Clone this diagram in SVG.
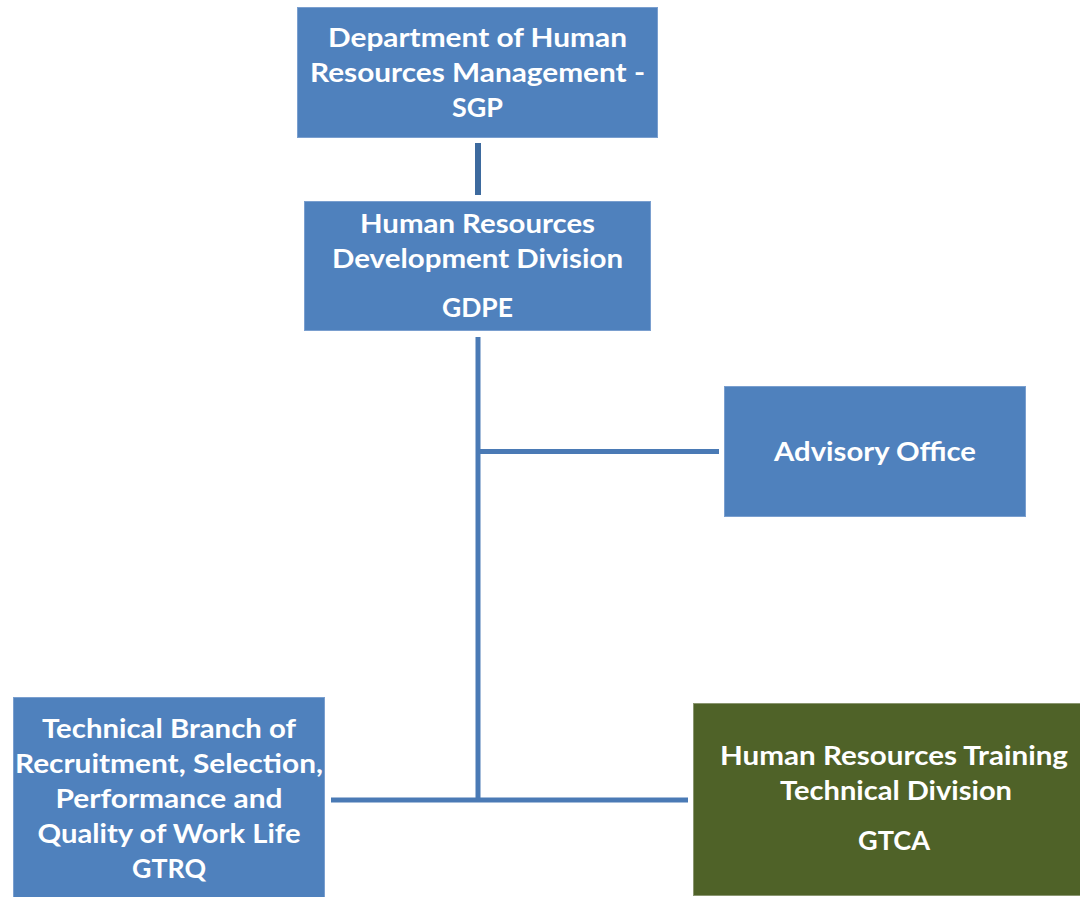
<svg xmlns="http://www.w3.org/2000/svg" width="1080" height="897" viewBox="0 0 1080 897">
<style>
.blue{fill:#4F81BD;stroke:#7A9FCF;stroke-width:1}
.green{fill:#4F6228;stroke:#8A9670;stroke-width:1}
.t{font-family:Lato,"Open Sans","Liberation Sans",sans-serif;font-weight:bold;font-size:27px;fill:#FFFFFF;text-anchor:middle}
.c{stroke:#4A7AB5;stroke-width:5;fill:none}
</style>
<rect width="1080" height="897" fill="#FFFFFF"/>
<g id="connectors">
<line class="c" x1="478" y1="143" x2="478" y2="195" style="stroke:#3D6A9E;stroke-width:6"/>
<line class="c" x1="478" y1="337" x2="478" y2="802"/>
<line class="c" x1="478" y1="451.5" x2="719" y2="451.5"/>
<line class="c" x1="331" y1="800" x2="688" y2="800"/>
</g>
<g id="sgp">
<rect class="blue" x="297.5" y="7.5" width="360" height="130"/>
<text class="t" x="477.5" y="47" textLength="299" lengthAdjust="spacingAndGlyphs">Department of Human</text>
<text class="t" x="477.5" y="82" textLength="335" lengthAdjust="spacingAndGlyphs">Resources Management -</text>
<text class="t" x="477.5" y="117" textLength="51" lengthAdjust="spacingAndGlyphs">SGP</text>
</g>
<g id="gdpe">
<rect class="blue" x="304.5" y="201.5" width="346" height="129"/>
<text class="t" x="477.5" y="233" textLength="235" lengthAdjust="spacingAndGlyphs">Human Resources</text>
<text class="t" x="477.5" y="268" textLength="291" lengthAdjust="spacingAndGlyphs">Development Division</text>
<text class="t" x="477.5" y="317" textLength="71" lengthAdjust="spacingAndGlyphs">GDPE</text>
</g>
<g id="advisory">
<rect class="blue" x="724.5" y="386.5" width="301" height="130"/>
<text class="t" x="875" y="461" textLength="202" lengthAdjust="spacingAndGlyphs">Advisory Office</text>
</g>
<g id="gtrq">
<rect class="blue" x="13.5" y="697.5" width="311" height="205"/>
<text class="t" x="169" y="738" textLength="254" lengthAdjust="spacingAndGlyphs">Technical Branch of</text>
<text class="t" x="169" y="773" textLength="308" lengthAdjust="spacingAndGlyphs">Recruitment, Selection,</text>
<text class="t" x="169" y="808" textLength="227" lengthAdjust="spacingAndGlyphs">Performance and</text>
<text class="t" x="169" y="843" textLength="263" lengthAdjust="spacingAndGlyphs">Quality of Work Life</text>
<text class="t" x="169" y="878" textLength="74" lengthAdjust="spacingAndGlyphs">GTRQ</text>
</g>
<g id="gtca">
<rect class="green" x="693.5" y="703.5" width="400" height="192"/>
<text class="t" x="894" y="765" textLength="348" lengthAdjust="spacingAndGlyphs">Human Resources Training</text>
<text class="t" x="896" y="800" textLength="232" lengthAdjust="spacingAndGlyphs">Technical Division</text>
<text class="t" x="894" y="850" textLength="72" lengthAdjust="spacingAndGlyphs">GTCA</text>
</g>
</svg>
